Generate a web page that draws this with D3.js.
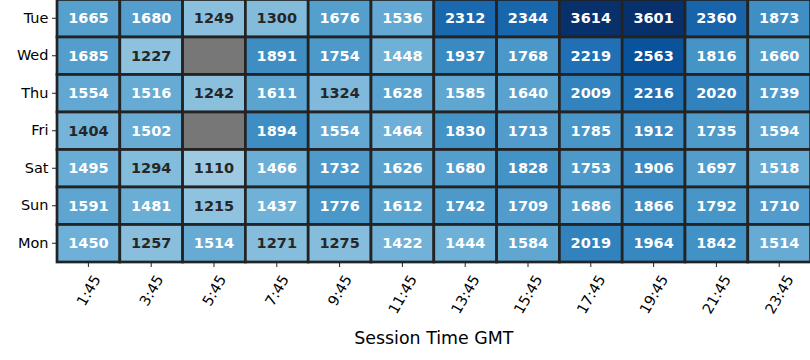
<!DOCTYPE html>
<html>
<head>
<meta charset="utf-8">
<script src="https://cdn.jsdelivr.net/npm/d3@7"></script>
<style>
    body { margin: 0; background: #fff; }
    svg { display: block; font-family: "DejaVu Sans", sans-serif; }
</style>
</head>
<body>
<svg id="chart" width="810" height="360"></svg>
<script>
// rows of the heatmap, top to bottom
const days = ["Tue", "Wed", "Thu", "Fri", "Sat", "Sun", "Mon"];
const times = ["1:45", "3:45", "5:45", "7:45", "9:45", "11:45",
    "13:45", "15:45", "17:45", "19:45", "21:45", "23:45"];

// null = no sessions (drawn grey)
const tue = [1665, 1680, 1249, 1300, 1676, 1536, 2312, 2344, 3614, 3601, 2360, 1873];
const wed = [1685, 1227, null, 1891, 1754, 1448, 1937, 1768, 2219, 2563, 1816, 1660];
const thu = [1554, 1516, 1242, 1611, 1324, 1628, 1585, 1640, 2009, 2216, 2020, 1739];
const fri = [1404, 1502, null, 1894, 1554, 1464, 1830, 1713, 1785, 1912, 1735, 1594];
const sat = [1495, 1294, 1110, 1466, 1732, 1626, 1680, 1828, 1753, 1906, 1697, 1518];
const sun = [1591, 1481, 1215, 1437, 1776, 1612, 1742, 1709, 1686, 1866, 1792, 1710];
const mon = [1450, 1257, 1514, 1271, 1275, 1422, 1444, 1584, 2019, 1964, 1842, 1514];
const rows = [tue, wed, thu, fri, sat, sun, mon];

const blues = ["#f7fbff", "#deebf7", "#c6dbef", "#9ecae1", "#6baed6",
    "#4292c6", "#2171b5", "#08519c", "#08306b"];
const vmin = 0, vmax = 2950;

const fs = 14.5;     // tick + annotation size
const tick = 5;

const svg = d3.select("#chart");
const x = d3.scaleBand().domain(times).range([57, 810.6]);
const y = d3.scaleBand().domain(days).range([-0.5, 262]);

const norm = d3.scaleLinear().domain([vmin, vmax]).range([0, 1]).clamp(true);
const color = d3.scaleLinear()
    .domain(d3.range(blues.length).map(i => i / (blues.length - 1)))
    .range(blues)
    .interpolate(d3.interpolateRgb);

function luminance(c) {
    const rgb = d3.rgb(c);
    const lin = v => {
        v /= 255;
        return v <= 0.03928 ? v / 12.92 : Math.pow((v + 0.055) / 1.055, 2.4);
    };
    return 0.2126 * lin(rgb.r) + 0.7152 * lin(rgb.g) + 0.0722 * lin(rgb.b);
}

const cells = [];
rows.forEach((vals, i) => vals.forEach((v, j) => cells.push({ day: days[i], time: times[j], v })));

const g = svg.append("g");
g.selectAll("rect")
    .data(cells)
    .join("rect")
    .attr("x", d => x(d.time))
    .attr("y", d => y(d.day))
    .attr("width", x.bandwidth())
    .attr("height", y.bandwidth())
    .attr("fill", d => d.v === null ? "#777777" : color(norm(d.v)))
    .attr("stroke", "#232323")
    .attr("stroke-width", 2.7);

g.selectAll("text")
    .data(cells.filter(d => d.v !== null))
    .join("text")
    .attr("x", d => x(d.time) + x.bandwidth() / 2)
    .attr("y", d => y(d.day) + y.bandwidth() / 2)
    .attr("dy", "0.36em")
    .attr("text-anchor", "middle")
    .attr("font-size", fs)
    .attr("font-weight", "bold")
    .attr("fill", d => luminance(color(norm(d.v))) > 0.408 ? "#262626" : "#ffffff")
    .text(d => d.v);

// y axis
const yAxis = svg.append("g")
    .attr("transform", "translate(57,0)")
    .call(d3.axisLeft(y).tickSize(tick).tickPadding(3.5));
yAxis.select(".domain").remove();
yAxis.selectAll("line").attr("stroke", "#222");
yAxis.selectAll("text").attr("font-size", fs).attr("fill", "#000").attr("font-family", "DejaVu Sans");

// x axis, labels turned 60 degrees around their centre
const xAxis = svg.append("g")
    .attr("transform", "translate(0,262)")
    .call(d3.axisBottom(x).tickSize(tick).tickFormat(""));
xAxis.select(".domain").remove();
xAxis.selectAll("line").attr("stroke", "#222");

const xl = svg.append("g").selectAll("text")
    .data(times)
    .join("text")
    .attr("font-size", fs)
    .attr("text-anchor", "middle")
    .attr("dy", "0.36em")
    .text(d => d);
xl.each(function (d) {
    const w = this.getComputedTextLength();
    const h = fs * 1.16;
    const a = Math.PI / 3;
    const bh = w * Math.sin(a) + h * Math.cos(a);
    const cx = x(d) + x.bandwidth() / 2;
    const cy = 262 + tick + 4.9 + bh / 2;
    d3.select(this).attr("transform", `translate(${cx},${cy}) rotate(-60)`);
});

svg.append("text")
    .attr("x", (57 + 810.6) / 2)
    .attr("y", 344)
    .attr("text-anchor", "middle")
    .attr("font-size", 17.4)
    .text("Session Time GMT");
</script>
</body>
</html>
